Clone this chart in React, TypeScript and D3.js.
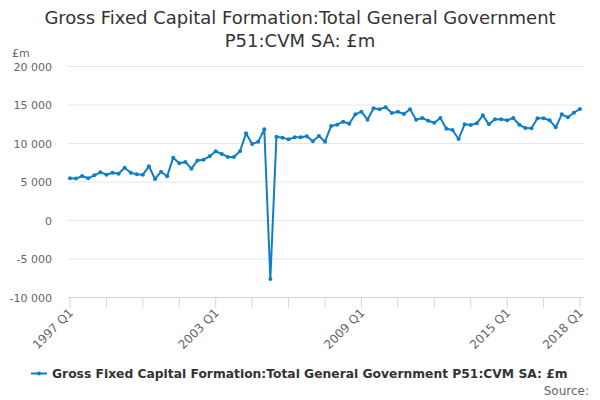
import React, { useEffect, useRef } from 'react'
import * as d3 from 'd3'

// quarterly values, 1997 Q1 .. 2018 Q1 (£m)
const startYear = 1997
const values: number[] = [
    5480, 5440, 5780, 5480,
    5870, 6260, 5950, 6210,
    6080, 6860, 6210, 6000,
    5950, 7040, 5390, 6340,
    5740, 8160, 7430, 7600,
    6730, 7800, 7900, 8340,
    8990, 8640, 8250, 8250,
    8990, 11320, 9930, 10240,
    11840, -7600, 10880, 10760,
    10540, 10800, 10800, 10930,
    10280, 10970, 10240, 12270,
    12440, 12830, 12570, 13790,
    14130, 13090, 14570, 14440,
    14700, 13960, 14130, 13830,
    14440, 13090, 13310, 12960,
    12700, 13310, 11920, 11750,
    10580, 12490, 12400, 12620,
    13660, 12490, 13140, 13140,
    13010, 13310, 12440, 12010,
    11970, 13270, 13270, 13010,
    12100, 13790, 13400, 14000,
    14480,
]
const yTicks = [-10000, -5000, 0, 5000, 10000, 15000, 20000]
const labelledTicks = ['1997 Q1', '2003 Q1', '2009 Q1', '2015 Q1', '2018 Q1']
const titleLines = ['Gross Fixed Capital Formation:Total General Government', 'P51:CVM SA: £m']
const seriesName = 'Gross Fixed Capital Formation:Total General Government P51:CVM SA: £m'

const quarterLabel = (i: number) => `${startYear + Math.floor(i / 4)} Q${(i % 4) + 1}`

const App: React.FC = () => {
    const svgRef = useRef<SVGSVGElement | null>(null)

    useEffect(() => {
        if (!svgRef.current) return
        const width = 600
        const height = 400
        const font = '"DejaVu Sans", sans-serif'
        const color = '#0f7fc4'

        const svg = d3.select(svgRef.current).attr('width', width).attr('height', height)
        svg.selectAll('*').remove()

        const x = d3.scaleLinear().domain([0, values.length - 1]).range([70, 580])
        const y = d3.scaleLinear().domain([-10000, 20000]).range([297.5, 66.5])
        const fmt = (v: number) => d3.format(',')(v).replace(/,/g, ' ').replace('−', '-')

        // title
        svg.append('text')
            .attr('x', 300)
            .attr('y', 24)
            .attr('text-anchor', 'middle')
            .attr('font-family', font)
            .attr('font-size', 18)
            .attr('fill', '#333')
            .selectAll('tspan')
            .data(titleLines)
            .join('tspan')
            .attr('x', 300)
            .attr('dy', (_, i) => (i === 0 ? 0 : 23))
            .text((d) => d)

        // unit label
        svg.append('text')
            .attr('x', 12)
            .attr('y', 57)
            .attr('font-family', font)
            .attr('font-size', 11)
            .attr('fill', '#666')
            .text('£m')

        // grid + y labels
        const yAxis = svg.append('g')
        yAxis.selectAll('line')
            .data(yTicks.filter((t) => t !== -10000))
            .join('line')
            .attr('x1', 68)
            .attr('x2', 584)
            .attr('y1', (d) => y(d))
            .attr('y2', (d) => y(d))
            .attr('stroke', '#e6e6e6')
        yAxis.selectAll('text')
            .data(yTicks)
            .join('text')
            .attr('x', 52)
            .attr('y', (d) => y(d) + 4)
            .attr('text-anchor', 'end')
            .attr('font-family', font)
            .attr('font-size', 11)
            .attr('fill', '#666')
            .text((d) => fmt(d))

        // x axis
        const xAxis = svg.append('g')
        xAxis.append('line')
            .attr('x1', 68)
            .attr('x2', 584)
            .attr('y1', y(-10000))
            .attr('y2', y(-10000))
            .attr('stroke', '#ccd6eb')
        const tickIdx = d3.range(0, values.length, 6)
        xAxis.selectAll('line.tick')
            .data(tickIdx)
            .join('line')
            .attr('class', 'tick')
            .attr('x1', (d) => x(d))
            .attr('x2', (d) => x(d))
            .attr('y1', y(-10000))
            .attr('y2', y(-10000) + 10)
            .attr('stroke', '#ccd6eb')
        xAxis.selectAll('text')
            .data(tickIdx.filter((i) => labelledTicks.includes(quarterLabel(i))))
            .join('text')
            .attr('transform', (d) => `translate(${x(d) + 4},${y(-10000) + 16}) rotate(-45)`)
            .attr('text-anchor', 'end')
            .attr('font-family', font)
            .attr('font-size', 12)
            .attr('fill', '#666')
            .text((d) => quarterLabel(d))

        // series
        const line = d3
            .line<number>()
            .x((_, i) => x(i))
            .y((d) => y(d))
        svg.append('path')
            .datum(values)
            .attr('fill', 'none')
            .attr('stroke', color)
            .attr('stroke-width', 2)
            .attr('stroke-linejoin', 'round')
            .attr('d', line)
        svg.append('g')
            .selectAll('circle')
            .data(values)
            .join('circle')
            .attr('cx', (_, i) => x(i))
            .attr('cy', (d) => y(d))
            .attr('r', 2)
            .attr('fill', color)

        // legend
        const legend = svg.append('g')
        legend.append('line')
            .attr('x1', 31)
            .attr('x2', 47)
            .attr('y1', 373.5)
            .attr('y2', 373.5)
            .attr('stroke', color)
            .attr('stroke-width', 2)
        legend.append('circle').attr('cx', 39).attr('cy', 373.5).attr('r', 2).attr('fill', color)
        legend.append('text')
            .attr('x', 52)
            .attr('y', 378)
            .attr('font-family', font)
            .attr('font-size', 12.3)
            .attr('font-weight', 'bold')
            .attr('fill', '#333')
            .text(seriesName)

        svg.append('text')
            .attr('x', 589)
            .attr('y', 395)
            .attr('text-anchor', 'end')
            .attr('font-family', font)
            .attr('font-size', 12)
            .attr('fill', '#666')
            .text('Source:')
    }, [])

    return (
        <div style={{ width: 600, height: 400, position: 'absolute', left: 0, top: 0, background: '#fff' }}>
            <svg ref={svgRef} style={{ display: 'block' }}></svg>
        </div>
    )
}

export default App
